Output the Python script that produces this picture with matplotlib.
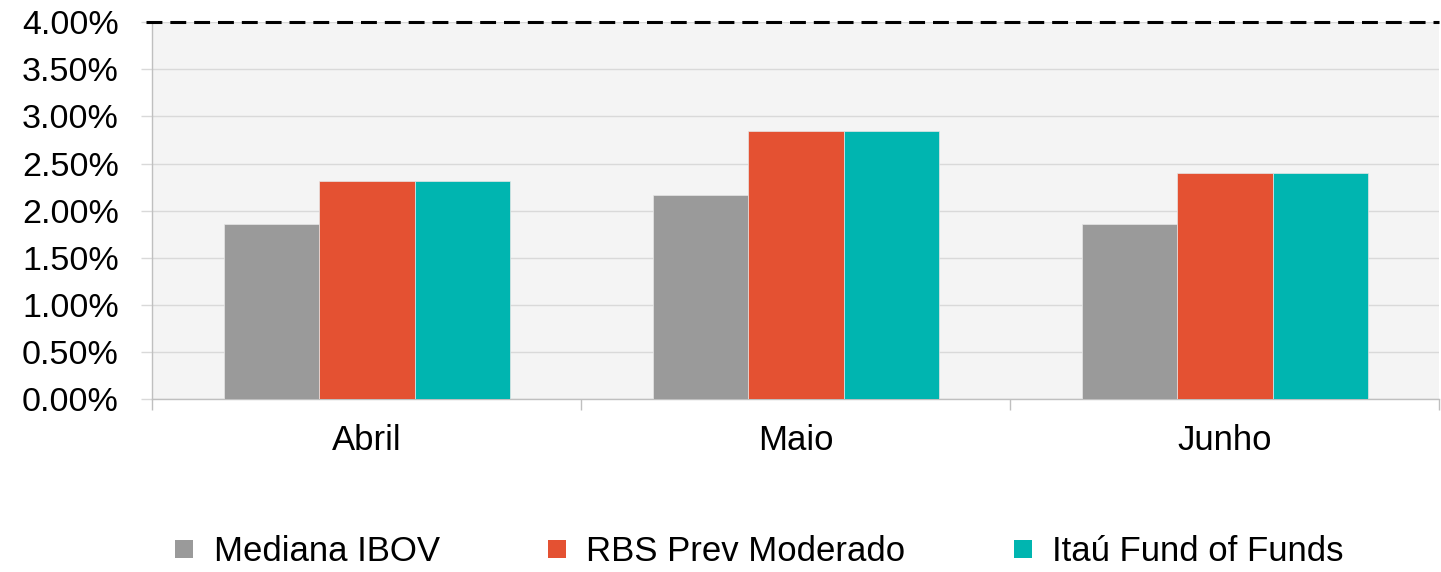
import numpy as np
import matplotlib.pyplot as plt
from matplotlib.lines import Line2D
from matplotlib.ticker import FuncFormatter

plt.rcParams['font.family'] = ['Liberation Sans', 'DejaVu Sans']

# --- data (monthly return, %) ---
months = ['Abril', 'Maio', 'Junho']
series_names = ['Mediana IBOV', 'RBS Prev Moderado', 'Itaú Fund of Funds']
mediana_ibov = [1.86, 2.17, 1.86]
rbs_prev = [2.31, 2.85, 2.40]
itau_fof = [2.31, 2.85, 2.40]
yticks = [0.0, 0.5, 1.0, 1.5, 2.0, 2.5, 3.0, 3.5, 4.0]
colors = ['#9a9a9a', '#e45132', '#00b5b0']

fig = plt.figure(figsize=(14.41, 5.72), dpi=100)
ax = fig.add_axes([0.1057, 0.30245, 0.8932, 0.6586])
ax.set_facecolor('#f4f4f4')

x = np.arange(len(months))
w = 0.2225
for i, (vals, c) in enumerate(zip([mediana_ibov, rbs_prev, itau_fof], colors)):
    ax.bar(x + (i - 1) * w, vals, width=w, color=c, edgecolor='#e6e6e6',
           linewidth=0.5, zorder=3)

ax.set_xlim(-0.5, len(months) - 0.5)
ax.set_ylim(0, 4.0)
ax.set_yticks(yticks)
ax.yaxis.set_major_formatter(FuncFormatter(lambda v, p: f'{v:.2f}%'))
ax.grid(axis='y', color='#d9d9d9', linewidth=1.0, zorder=0)

# target line at 4%
ax.axhline(4.0, xmin=-0.005, xmax=1.0, color='black', lw=2.2,
           linestyle=(0, (5.2, 2.6)), clip_on=False, zorder=5)

for s in ['top', 'right']:
    ax.spines[s].set_visible(False)
for s in ['left', 'bottom']:
    ax.spines[s].set_color('#bfbfbf')
    ax.spines[s].set_linewidth(1.0)

ax.tick_params(axis='y', length=8, width=1.0, color='#d9d9d9', pad=16.0,
               labelsize=24.5, labelcolor='black')
ax.set_xticks(x)
ax.set_xticklabels(months)
ax.tick_params(axis='x', which='major', length=0, pad=18, labelsize=25)
ax.set_xticks(np.arange(-0.5, len(months)), minor=True)
ax.tick_params(axis='x', which='minor', length=8, width=1.0, color='#bfbfbf')

handles = [Line2D([], [], marker='s', linestyle='none', markersize=13,
                  color=c, markeredgewidth=0) for c in colors]
fig.legend(handles, series_names, loc='center', bbox_to_anchor=(0.527, 0.036),
           ncol=3, frameon=False, fontsize=25, handlelength=0.52,
           handletextpad=0.58, columnspacing=3.12, borderpad=0,
           borderaxespad=0)

fig.savefig('out.png', dpi=100)
